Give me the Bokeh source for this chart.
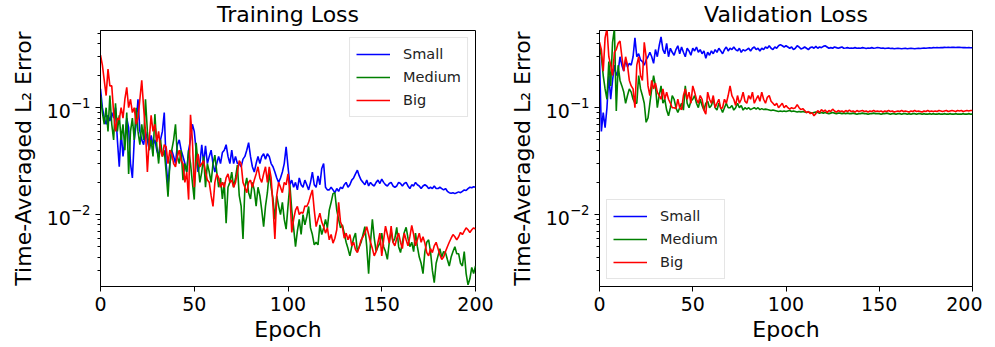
from bokeh.plotting import figure
from bokeh.models import Range1d, Legend, LegendItem, FixedTicker
from bokeh.layouts import row
from bokeh.embed import file_html
from bokeh.resources import INLINE

epochs = list(range(201))
series_names = ["Small", "Medium", "Big"]
x_ticks = [0, 50, 100, 150, 200]

train_small = [
    0.15, 0.10, 0.08, 0.07, 0.085, 0.075, 0.09, 0.08, 0.10, 0.05,
    0.028, 0.06, 0.035, 0.05, 0.08, 0.065, 0.03, 0.022, 0.05, 0.07,
    0.12, 0.06, 0.05, 0.045, 0.06, 0.05, 0.04, 0.055, 0.045, 0.05,
    0.04, 0.035, 0.05, 0.06, 0.09, 0.03, 0.019, 0.03, 0.04, 0.035,
    0.03, 0.045, 0.05, 0.04, 0.035, 0.03, 0.025, 0.04, 0.05, 0.07,
    0.06, 0.04, 0.025, 0.03, 0.045, 0.03, 0.044, 0.03, 0.035, 0.04,
    0.03, 0.025, 0.03, 0.035, 0.03, 0.038, 0.04, 0.045, 0.035, 0.03,
    0.04, 0.03, 0.035, 0.03, 0.03, 0.028, 0.033, 0.035, 0.04, 0.047,
    0.035, 0.028, 0.025, 0.03, 0.035, 0.03, 0.035, 0.037, 0.033, 0.037,
    0.035, 0.03, 0.028, 0.025, 0.022, 0.02, 0.022, 0.025, 0.03, 0.043,
    0.028, 0.019, 0.021, 0.018, 0.02, 0.017, 0.022, 0.019, 0.018, 0.021,
    0.019, 0.017, 0.02, 0.025, 0.019, 0.018, 0.023, 0.019, 0.027, 0.03,
    0.018, 0.017, 0.017, 0.018, 0.017, 0.016, 0.0175, 0.0165, 0.018, 0.0175,
    0.019, 0.02, 0.018, 0.019, 0.021, 0.022, 0.024, 0.026, 0.023, 0.021,
    0.02, 0.019, 0.021, 0.0185, 0.02, 0.019, 0.0185, 0.02, 0.021, 0.0195,
    0.0215, 0.02, 0.019, 0.0185, 0.0195, 0.02, 0.0185, 0.018, 0.0185, 0.02,
    0.0195, 0.0185, 0.0195, 0.02, 0.0185, 0.0175, 0.019, 0.0185, 0.02, 0.019,
    0.0185, 0.0175, 0.0185, 0.019, 0.0185, 0.0175, 0.018, 0.0175, 0.0185, 0.0175,
    0.0175, 0.018, 0.0175, 0.017, 0.0175, 0.0165, 0.016, 0.0158, 0.016, 0.0157,
    0.016, 0.0163, 0.016, 0.0165, 0.017, 0.0168, 0.0175, 0.018, 0.0178, 0.0182,
    0.018,
]

train_medium = [
    0.13, 0.09, 0.07, 0.1, 0.06, 0.13, 0.07, 0.05, 0.11, 0.06,
    0.085, 0.05, 0.07, 0.04, 0.09, 0.024, 0.06, 0.08, 0.05, 0.1,
    0.06, 0.045, 0.07, 0.05, 0.12, 0.06, 0.04, 0.05, 0.035, 0.087,
    0.045, 0.03, 0.05, 0.035, 0.04, 0.025, 0.0147, 0.03, 0.04, 0.05,
    0.07, 0.035, 0.03, 0.04, 0.021, 0.03, 0.025, 0.04, 0.03, 0.02,
    0.0138, 0.047, 0.03, 0.02, 0.025, 0.035, 0.018, 0.03, 0.025, 0.02,
    0.03, 0.036, 0.025, 0.018, 0.022, 0.014, 0.02, 0.0083, 0.018, 0.02,
    0.025, 0.018, 0.022, 0.029, 0.015, 0.012, 0.0059, 0.018, 0.022, 0.016,
    0.014, 0.02, 0.017, 0.012, 0.018, 0.015, 0.011, 0.0077, 0.012, 0.016,
    0.025, 0.018, 0.014, 0.009, 0.015, 0.012, 0.01, 0.013, 0.009, 0.0073,
    0.012, 0.019, 0.011, 0.0075, 0.005, 0.007, 0.009, 0.0065, 0.01, 0.008,
    0.0095, 0.0119, 0.0075, 0.0065, 0.0052, 0.0055, 0.0052, 0.008, 0.0065, 0.0075,
    0.009, 0.0075, 0.011, 0.013, 0.0157, 0.016, 0.011, 0.009, 0.0075, 0.008,
    0.0067, 0.0055, 0.0048, 0.0041, 0.005, 0.006, 0.0067, 0.0045, 0.005, 0.0055,
    0.0065, 0.0077, 0.005, 0.0028, 0.0055, 0.009, 0.006, 0.0045, 0.005, 0.0054,
    0.0067, 0.005, 0.0045, 0.0038, 0.0055, 0.007, 0.0055, 0.006, 0.0076, 0.005,
    0.0044, 0.0055, 0.0068, 0.0076, 0.006, 0.005, 0.0055, 0.0045, 0.0067, 0.005,
    0.004, 0.0035, 0.0028, 0.0045, 0.0055, 0.0058, 0.0045, 0.003, 0.0023, 0.0035,
    0.0041, 0.0048, 0.004, 0.0045, 0.0044, 0.0038, 0.0033, 0.004, 0.0045, 0.005,
    0.0043, 0.0043, 0.0035, 0.0033, 0.0045, 0.0028, 0.0022, 0.0025, 0.0032, 0.0028,
    0.0033,
]

train_big = [
    0.31, 0.25, 0.18, 0.13, 0.23, 0.16, 0.16, 0.09, 0.06, 0.08,
    0.077, 0.1, 0.08, 0.12, 0.155, 0.1, 0.12, 0.09, 0.1, 0.07,
    0.08, 0.12, 0.18, 0.1, 0.06, 0.025, 0.05, 0.085, 0.06, 0.07,
    0.048, 0.06, 0.04, 0.035, 0.045, 0.043, 0.03, 0.04, 0.037, 0.03,
    0.028, 0.035, 0.04, 0.032, 0.03, 0.02, 0.025, 0.0138, 0.086, 0.05,
    0.018, 0.03, 0.037, 0.028, 0.03, 0.032, 0.025, 0.021, 0.02, 0.015,
    0.0119, 0.02, 0.024, 0.022, 0.018, 0.02, 0.018, 0.022, 0.024, 0.02,
    0.021, 0.018, 0.02, 0.025, 0.032, 0.03, 0.02, 0.018, 0.016, 0.02,
    0.021, 0.018, 0.021, 0.024, 0.028, 0.022, 0.02, 0.024, 0.028, 0.02,
    0.028, 0.022, 0.012, 0.0059, 0.015, 0.02, 0.018, 0.016, 0.02, 0.019,
    0.024, 0.016, 0.0068, 0.009, 0.011, 0.0119, 0.01, 0.0105, 0.0103, 0.012,
    0.0119, 0.013, 0.015, 0.017, 0.011, 0.0077, 0.009, 0.0103, 0.0085, 0.0077,
    0.0067, 0.0075, 0.0058, 0.0065, 0.0054, 0.006, 0.0072, 0.013, 0.0085, 0.0077,
    0.006, 0.0067, 0.0058, 0.0065, 0.0051, 0.0055, 0.0047, 0.0044, 0.005, 0.0058,
    0.0062, 0.0067, 0.0077, 0.0065, 0.0055, 0.0048, 0.0041, 0.0045, 0.0055, 0.0067,
    0.0041, 0.0058, 0.0078, 0.0065, 0.0054, 0.0078, 0.0055, 0.0051, 0.006, 0.0067,
    0.0055, 0.0048, 0.0067, 0.0058, 0.0051, 0.0062, 0.0079, 0.0065, 0.0051, 0.0058,
    0.0067, 0.0055, 0.0062, 0.0054, 0.0044, 0.0041, 0.0048, 0.0044, 0.0051, 0.0055,
    0.0048, 0.0042, 0.0038, 0.004, 0.0045, 0.005, 0.0055, 0.006, 0.0065, 0.0062,
    0.0058, 0.0062, 0.0068, 0.0065, 0.007, 0.0075, 0.0072, 0.0068, 0.0072, 0.0075,
    0.0073,
]

val_small = [
    0.3, 0.06, 0.09, 0.065, 0.1, 0.2, 0.12, 0.18, 0.25, 0.2,
    0.22, 0.3, 0.25, 0.22, 0.28, 0.24, 0.26, 0.25, 0.3, 0.45,
    0.3, 0.32, 0.28, 0.27, 0.25, 0.28, 0.3, 0.33, 0.3, 0.26,
    0.35, 0.3, 0.38, 0.46, 0.35, 0.32, 0.4, 0.3, 0.36, 0.33,
    0.31, 0.35, 0.38, 0.32, 0.37, 0.33, 0.3, 0.36, 0.34, 0.31,
    0.36, 0.34, 0.37, 0.33, 0.35, 0.32, 0.34, 0.29, 0.33, 0.31,
    0.34, 0.32, 0.35, 0.33, 0.36, 0.34, 0.32, 0.35, 0.37, 0.34,
    0.36, 0.35, 0.37, 0.35, 0.34, 0.36, 0.33, 0.35, 0.34, 0.35,
    0.36, 0.34, 0.36, 0.37, 0.35, 0.36, 0.34, 0.36, 0.35, 0.37,
    0.36, 0.38, 0.36, 0.35, 0.37, 0.36, 0.38, 0.39, 0.38, 0.37,
    0.38, 0.37, 0.36, 0.37, 0.35, 0.36, 0.38, 0.37, 0.355, 0.36,
    0.37, 0.36, 0.35, 0.365, 0.37, 0.36, 0.375, 0.36, 0.37, 0.365,
    0.375, 0.38, 0.37, 0.36, 0.365, 0.36, 0.37, 0.365, 0.36, 0.365,
    0.37, 0.36, 0.362, 0.365, 0.36, 0.362, 0.36, 0.365, 0.36, 0.362,
    0.36, 0.365, 0.362, 0.358, 0.362, 0.36, 0.365, 0.36, 0.362, 0.366,
    0.364, 0.36, 0.362, 0.358, 0.36, 0.362, 0.358, 0.36, 0.356, 0.358,
    0.36, 0.358, 0.356, 0.358, 0.36, 0.356, 0.358, 0.36, 0.358, 0.356,
    0.358, 0.36, 0.358, 0.36, 0.362, 0.36, 0.362, 0.364, 0.362, 0.365,
    0.364, 0.366, 0.364, 0.366, 0.365, 0.367, 0.366, 0.368, 0.366, 0.367,
    0.368, 0.366, 0.368, 0.367, 0.366, 0.365, 0.366, 0.364, 0.365, 0.364,
    0.364,
]

val_medium = [
    0.38, 0.3, 0.2, 0.15, 0.12, 0.27, 0.16, 0.41, 0.55, 0.093,
    0.25, 0.18, 0.16, 0.14, 0.11, 0.13, 0.15, 0.14, 0.12, 0.11,
    0.11, 0.2, 0.15, 0.13, 0.11, 0.073, 0.08, 0.11, 0.15, 0.2,
    0.16, 0.1, 0.13, 0.16, 0.11, 0.12, 0.095, 0.084, 0.1, 0.13,
    0.12, 0.1, 0.09, 0.1, 0.11, 0.095, 0.16, 0.11, 0.1, 0.115,
    0.12, 0.13, 0.11, 0.1, 0.12, 0.105, 0.095, 0.11, 0.115, 0.1,
    0.105, 0.12, 0.1, 0.095, 0.11, 0.1, 0.09, 0.1, 0.11, 0.1,
    0.1, 0.105, 0.095, 0.1, 0.11, 0.1, 0.105, 0.095, 0.1, 0.097,
    0.1, 0.096, 0.098, 0.1, 0.097, 0.1, 0.096, 0.098, 0.096, 0.097,
    0.096, 0.095, 0.094, 0.095, 0.094, 0.093, 0.092, 0.093, 0.092, 0.093,
    0.092, 0.093, 0.094, 0.092, 0.093, 0.092, 0.091, 0.092, 0.091, 0.092,
    0.091, 0.09, 0.091, 0.09, 0.089, 0.09, 0.091, 0.09, 0.089, 0.09,
    0.089, 0.09, 0.089, 0.088, 0.089, 0.09, 0.089, 0.088, 0.089, 0.089,
    0.088, 0.089, 0.088, 0.089, 0.088, 0.088, 0.089, 0.088, 0.087, 0.088,
    0.088, 0.089, 0.088, 0.088, 0.087, 0.088, 0.088, 0.089, 0.088, 0.088,
    0.088, 0.087, 0.088, 0.088, 0.089, 0.088, 0.087, 0.088, 0.088, 0.087,
    0.088, 0.088, 0.087, 0.088, 0.088, 0.087, 0.088, 0.087, 0.088, 0.088,
    0.087, 0.088, 0.088, 0.087, 0.088, 0.087, 0.087, 0.088, 0.087, 0.088,
    0.087, 0.087, 0.088, 0.087, 0.087, 0.088, 0.087, 0.087, 0.088, 0.087,
    0.087, 0.088, 0.087, 0.087, 0.087, 0.088, 0.087, 0.087, 0.088, 0.087,
    0.087,
]

val_big = [
    0.41, 0.35, 0.22, 0.45, 0.55, 0.3, 0.25, 0.2, 0.33, 0.35,
    0.4, 0.42, 0.3, 0.22, 0.3, 0.25, 0.18, 0.16, 0.15, 0.1,
    0.25, 0.3, 0.2, 0.18, 0.41, 0.3, 0.16, 0.13, 0.18, 0.15,
    0.17, 0.14, 0.13, 0.12, 0.15, 0.12, 0.14, 0.12, 0.11, 0.1,
    0.1, 0.098, 0.12, 0.1, 0.096, 0.13, 0.15, 0.12, 0.14, 0.11,
    0.16, 0.14, 0.12, 0.11, 0.13, 0.12, 0.095, 0.087, 0.14, 0.12,
    0.11, 0.13, 0.1, 0.11, 0.12, 0.098, 0.1, 0.12, 0.11, 0.13,
    0.16, 0.13, 0.12, 0.105, 0.13, 0.11, 0.12, 0.14, 0.115, 0.11,
    0.13, 0.12, 0.14, 0.11, 0.12, 0.13, 0.115, 0.14, 0.12, 0.11,
    0.125, 0.13, 0.115, 0.11, 0.105, 0.11, 0.1, 0.105, 0.11, 0.1,
    0.105, 0.1, 0.097, 0.1, 0.098, 0.1, 0.107, 0.1, 0.096, 0.098,
    0.094, 0.09, 0.092, 0.088, 0.09, 0.084, 0.088, 0.094, 0.09, 0.096,
    0.092, 0.095, 0.09, 0.094, 0.092, 0.097, 0.093, 0.091, 0.094, 0.092,
    0.093, 0.091, 0.094, 0.092, 0.095, 0.092, 0.093, 0.091, 0.094, 0.092,
    0.093, 0.094, 0.092, 0.093, 0.091, 0.093, 0.092, 0.094, 0.092, 0.093,
    0.092, 0.093, 0.091, 0.093, 0.092, 0.094, 0.092, 0.093, 0.091, 0.092,
    0.093, 0.092, 0.094, 0.092, 0.093, 0.092, 0.091, 0.093, 0.092, 0.094,
    0.092, 0.093, 0.092, 0.091, 0.093, 0.092, 0.094, 0.092, 0.093, 0.092,
    0.093, 0.092, 0.094, 0.093, 0.092, 0.093, 0.094, 0.092, 0.093, 0.094,
    0.093, 0.092, 0.094, 0.093, 0.094, 0.092, 0.093, 0.094, 0.093, 0.094,
    0.094,
]

COLORS = ["blue", "green", "red"]
FONT = "DejaVu Sans"


def make_panel(title, data, legend_loc, border_left, frame_w, border_right):
    p = figure(
        width=border_left + frame_w + border_right,
        height=344,
        y_axis_type="log",
        x_range=Range1d(0, 200),
        y_range=Range1d(0.00212, 0.528),
        output_backend="svg",
        toolbar_location=None,
        title=title,
        min_border_left=border_left,
        min_border_right=border_right,
        min_border_top=27,
        min_border_bottom=58,
    )
    p.title.align = "center"
    p.title.vertical_align = "top"
    p.title.text_font = FONT
    p.title.text_font_size = "22px"
    p.title.text_font_style = "normal"
    p.title.text_color = "black"
    p.title.standoff = 3
    p.outline_line_color = "black"
    p.outline_line_width = 1
    p.xgrid.visible = False
    p.ygrid.visible = False
    p.background_fill_color = "white"
    p.border_fill_color = "white"

    for ax in (p.xaxis[0], p.yaxis[0]):
        ax.axis_line_color = "black"
        ax.major_tick_line_color = "black"
        ax.major_tick_in = 0
        ax.major_tick_out = 5
        ax.minor_tick_in = 0
        ax.minor_tick_out = 3
        ax.major_label_text_font = FONT
        ax.major_label_text_font_size = "19px"
        ax.major_label_text_color = "black"
        ax.axis_label_text_font = FONT
        ax.axis_label_text_font_size = "22px"
        ax.axis_label_text_font_style = "normal"
        ax.axis_label_text_color = "black"

    p.xaxis.ticker = FixedTicker(ticks=x_ticks)
    p.xaxis.minor_tick_line_color = None
    p.xaxis.axis_label = "Epoch"
    p.xaxis.axis_label_standoff = 3
    p.yaxis.axis_label = "Time-Averaged L\u2082 Error"
    p.yaxis.axis_label_standoff = 8

    items = []
    for name, vals, col in zip(series_names, data, COLORS):
        r = p.line(epochs, vals, line_color=col, line_width=1.6)
        items.append(LegendItem(label=name, renderers=[r]))

    leg = Legend(
        items=items,
        location=legend_loc,
        label_text_font=FONT,
        label_text_font_size="14.5px",
        label_text_color="#222222",
        glyph_width=34,
        glyph_height=20,
        label_height=20,
        label_standoff=13,
        spacing=3,
        padding=6,
        margin=7,
        border_line_color="#cccccc",
        border_line_width=1,
        background_fill_alpha=0.8,
    )
    p.add_layout(leg, "center")
    return p


p1 = make_panel("Training Loss", [train_small, train_medium, train_big], "top_right", 100, 375, 20)
p2 = make_panel("Validation Loss", [val_small, val_medium, val_big], "bottom_left", 104, 373, 10)

layout = row(p1, p2, spacing=0)
open("out.html", "w").write(file_html(layout, INLINE))
